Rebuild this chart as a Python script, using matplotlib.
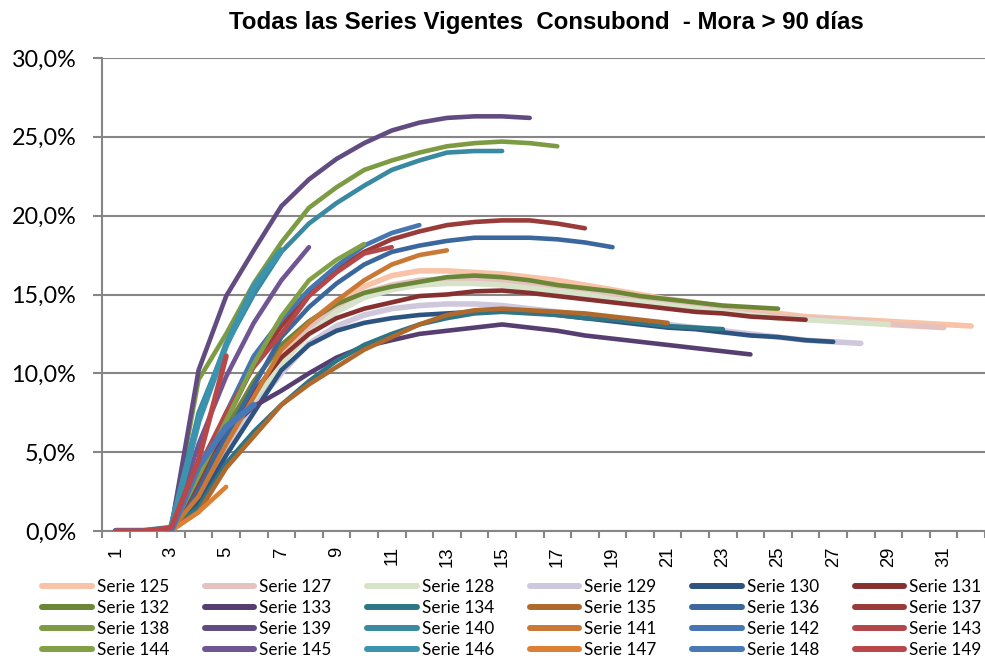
import matplotlib
matplotlib.use("Agg")
import matplotlib.pyplot as plt
from matplotlib.lines import Line2D
import numpy as np

# ---------------- data ----------------
categories = list(range(1, 33))
tick_labels = [str(c) for c in categories if c % 2 == 1]
title = "Todas las Series Vigentes  Consubond  - Mora > 90 días"

s125 = [0, 0, 0.1, 2.6, 5.6, 8.6, 11.2, 13.2, 14.6, 15.5, 16.2, 16.5, 16.5, 16.4, 16.3, 16.1, 15.9, 15.6,
        15.3, 15.0, 14.7, 14.5, 14.2, 14.0, 13.8, 13.6, 13.5, 13.4, 13.3, 13.2, 13.1, 13.0]
s127 = [0, 0, 0.1, 2.2, 5.2, 8.2, 10.8, 12.8, 14.2, 15.1, 15.6, 15.9, 16.0, 16.0, 15.9, 15.7, 15.5, 15.2,
        14.9, 14.6, 14.4, 14.2, 14.0, 13.8, 13.6, 13.5, 13.4, 13.3, 13.1, 13.0, 12.9]
s128 = [0, 0, 0.1, 2.4, 5.4, 8.2, 10.6, 12.5, 13.9, 14.8, 15.3, 15.6, 15.7, 15.7, 15.6, 15.4, 15.2, 15.0,
        14.7, 14.5, 14.3, 14.1, 13.9, 13.7, 13.5, 13.4, 13.3, 13.2, 13.1]
s129 = [0, 0, 0.1, 2.0, 5.0, 7.8, 10.0, 11.9, 13.0, 13.7, 14.1, 14.3, 14.4, 14.4, 14.3, 14.1, 13.9, 13.7,
        13.5, 13.3, 13.1, 12.9, 12.7, 12.5, 12.3, 12.1, 12.0, 11.9]
s130 = [0, 0, 0.1, 1.8, 4.8, 7.5, 10.2, 11.8, 12.7, 13.2, 13.5, 13.7, 13.8, 13.9, 14.0, 13.9, 13.7, 13.5,
        13.3, 13.1, 12.9, 12.8, 12.6, 12.4, 12.3, 12.1, 12.0]
s131 = [0, 0, 0.1, 2.5, 5.8, 8.8, 11.0, 12.5, 13.5, 14.1, 14.5, 14.9, 15.0, 15.2, 15.25, 15.1, 14.9, 14.7,
        14.5, 14.3, 14.1, 13.9, 13.8, 13.6, 13.5, 13.4]
s132 = [0, 0, 0.1, 3.0, 6.5, 9.5, 11.8, 13.3, 14.4, 15.1, 15.5, 15.8, 16.1, 16.2, 16.1, 15.9, 15.6, 15.4,
        15.2, 14.9, 14.7, 14.5, 14.3, 14.2, 14.1]
s133 = [0, 0, 0.1, 3.8, 6.3, 7.9, 8.9, 10.0, 11.0, 11.7, 12.1, 12.5, 12.7, 12.9, 13.1, 12.9, 12.7, 12.4,
        12.2, 12.0, 11.8, 11.6, 11.4, 11.2]
s134 = [0, 0, 0.1, 1.5, 4.3, 6.3, 8.0, 9.5, 10.8, 11.8, 12.5, 13.1, 13.5, 13.8, 13.9, 13.8, 13.7, 13.5,
        13.4, 13.2, 13.0, 12.9, 12.8]
s135 = [0, 0, 0.1, 1.2, 4.0, 6.0, 8.0, 9.3, 10.4, 11.5, 12.3, 13.1, 13.7, 14.0, 14.1, 14.0, 13.9, 13.8,
        13.6, 13.4, 13.2]
s136 = [0, 0, 0.1, 2.8, 6.0, 9.2, 12.3, 14.2, 15.7, 16.9, 17.7, 18.1, 18.4, 18.6, 18.6, 18.6, 18.5, 18.3, 18.0]
s137 = [0, 0, 0.1, 3.2, 7.0, 10.5, 13.0, 15.0, 16.6, 17.7, 18.5, 19.0, 19.4, 19.6, 19.7, 19.7, 19.5, 19.2]
s138 = [0, 0, 0.1, 9.6, 12.5, 15.7, 18.3, 20.5, 21.8, 22.9, 23.5, 24.0, 24.4, 24.6, 24.7, 24.6, 24.4]
s139 = [0, 0, 0.1, 10.2, 14.9, 17.8, 20.6, 22.3, 23.6, 24.6, 25.4, 25.9, 26.2, 26.3, 26.3, 26.2]
s140 = [0, 0, 0.1, 7.5, 11.8, 15.0, 17.7, 19.5, 20.8, 21.9, 22.9, 23.5, 24.0, 24.1, 24.1]
s141 = [0, 0, 0.1, 2.2, 5.5, 8.5, 11.5, 13.2, 14.6, 15.9, 16.9, 17.5, 17.8]
s142 = [0, 0, 0.1, 3.5, 7.5, 11.1, 13.4, 15.3, 16.8, 18.1, 18.9, 19.4]
s143 = [0, 0, 0.2, 4.0, 7.5, 10.4, 12.5, 14.9, 16.4, 17.6, 18.0]
s144 = [0, 0, 0.1, 3.5, 7.0, 10.6, 13.6, 15.9, 17.2, 18.2]
s145 = [0, 0, 0.1, 5.5, 9.8, 13.2, 15.9, 18.0]
s146 = [0, 0, 0.2, 7.0, 11.8, 15.5, 17.8]
s147 = [0, 0, 0, 1.2, 2.8]
s148 = [0, 0, 0, 4.1, 6.6, 8.0]
s149 = [0, 0, 0.2, 4.5, 11.1]

series_names = ["Serie 125", "Serie 127", "Serie 128", "Serie 129", "Serie 130", "Serie 131",
                "Serie 132", "Serie 133", "Serie 134", "Serie 135", "Serie 136", "Serie 137",
                "Serie 138", "Serie 139", "Serie 140", "Serie 141", "Serie 142", "Serie 143",
                "Serie 144", "Serie 145", "Serie 146", "Serie 147", "Serie 148", "Serie 149"]
series_values = [s125, s127, s128, s129, s130, s131, s132, s133, s134, s135, s136, s137,
                 s138, s139, s140, s141, s142, s143, s144, s145, s146, s147, s148, s149]
colors = ["#F8C3A6", "#E5C1C0", "#D7E3C8", "#CFC7DB", "#2D5380", "#86312F",
          "#6B8637", "#563F70", "#2E7587", "#B0692C", "#3B679C", "#993B39",
          "#7D9B43", "#624B80", "#3889A1", "#C97835", "#4676B1", "#B3474A",
          "#82A146", "#6F5591", "#3C93AE", "#DB8034", "#4878B5", "#B8474A"]
widths = [4.0, 4.0, 4.0, 4.0, 3.3, 3.3, 3.3, 3.3, 3.3, 3.3, 3.3, 3.3,
          3.3, 3.3, 3.3, 3.3, 3.3, 3.3, 3.3, 3.3, 4.5, 3.3, 4.5, 3.8]

# ---------------- figure ----------------
W, H = 985, 658
fig = plt.figure(figsize=(W / 100, H / 100), dpi=100)
ax = fig.add_axes([102 / W, 1 - 531 / H, 883 / W, 473 / H])

grid_c = "#868686"
for name, vals, col, lw in zip(series_names, series_values, colors, widths):
    ax.plot(categories[:len(vals)], vals, color=col, lw=lw, label=name,
            solid_capstyle="round", solid_joinstyle="round", zorder=3)

ax.set_xlim(0.5, 32.5)
ax.set_ylim(0, 30)

# y axis
yt = np.arange(0, 31, 5)
ax.set_yticks(yt)
ax.set_yticklabels([f"{v:.1f}%".replace(".", ",") for v in yt], fontfamily="Lato", fontsize=16.8)
ax.tick_params(axis="y", direction="out", length=6.5, width=1.5, color=grid_c, pad=12)
ax.yaxis.grid(True, color=grid_c, lw=1.5, zorder=0)
ax.set_axisbelow(True)

# x axis: ticks between categories, labels on odd categories
ax.set_xticks(np.arange(0.5, 33, 1))
ax.set_xticklabels([])
ax.tick_params(axis="x", which="major", direction="out", length=5, width=1.5, color=grid_c)
ax.set_xticks([c for c in categories if c % 2 == 1], minor=True)
ax.set_xticklabels(tick_labels, minor=True, rotation=90, fontfamily="Liberation Sans", fontsize=13.3)
ax.tick_params(axis="x", which="minor", length=0, pad=11)

for s in ["top", "right"]:
    ax.spines[s].set_visible(False)
for s in ["left", "bottom"]:
    ax.spines[s].set_color(grid_c)
    ax.spines[s].set_linewidth(1.5)

fig.text(546 / W, 1 - 22 / H, title, ha="center", va="center",
         fontfamily="Liberation Sans", fontweight="bold", fontsize=17.3)

# legend: row-major order across 6 columns
handles = [Line2D([], [], color=c, lw=4.3, solid_capstyle="round") for c in colors]
ncol, nrow = 6, 4
order = [r * ncol + c for c in range(ncol) for r in range(nrow)]
leg = fig.legend([handles[i] for i in order], [series_names[i] for i in order],
                 ncol=ncol, loc="upper left", bbox_to_anchor=(42 / W, 1 - 579 / H),
                 frameon=False, prop={"family": "Lato", "size": 12.3},
                 handlelength=2.9, handletextpad=0.3, columnspacing=2.08,
                 labelspacing=0.30, borderpad=0, borderaxespad=0)

fig.savefig("out.png", dpi=100)
